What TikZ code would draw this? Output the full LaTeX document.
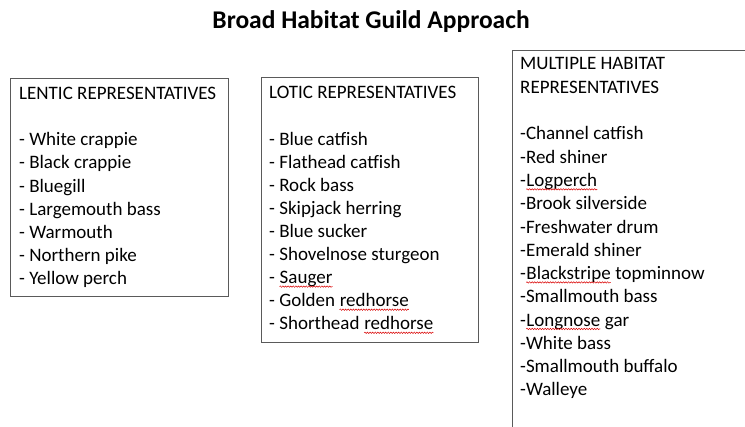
\documentclass[tikz,border=0pt]{standalone}
\usepackage{fontspec}
\setmainfont{Carlito}
\usetikzlibrary{decorations.pathmorphing}
\definecolor{boxgray}{HTML}{5A5A5A}
\tikzset{
  boxline/.style={draw=boxgray, line width=0.9pt},
  item/.style={anchor=base west, inner sep=0pt, font=\fontsize{19}{22}\selectfont, text=black},
  titlestyle/.style={anchor=base, inner sep=0pt, font=\fontsize{25.5}{30}\selectfont\bfseries},
  squig/.style={draw=red!85!black, line width=0.5pt, decorate, decoration={snake, amplitude=0.7pt, segment length=2.6pt}}
}
% name, x, y, prefix, word, suffix
\newcommand\sqline[6]{%
  \node[item] (#1a) at (#2,#3) {#4\null};
  \node[item] (#1) at (#1a.base east) {#5};
  \node[item] (#1b) at (#1.base east) {#6};
  \draw[squig] ([yshift=-2.8pt]#1.base west) -- ([yshift=-2.8pt]#1.base east);
}
\begin{document}
\begin{tikzpicture}[x=1pt,y=-1pt]
\useasboundingbox (0,0) rectangle (745,427);
\node[titlestyle] (title) at (371,28.5) {Broad Habitat Guild Approach};
% boxes
\draw[boxline] (10,78) rectangle (228,296);
\draw[boxline] (261,77.5) rectangle (478.5,342.5);
\coordinate (mtl) at (512,50);
\coordinate (mtr) at (746,50);
\coordinate (mbl) at (512,428);
\draw[boxline] (mtr) -- (mtl) -- (mbl);
% box 1
\node[item] (l0) at (19,99.5) {LENTIC REPRESENTATIVES};
\foreach \t [count=\i from 2] in {White crappie, Black crappie, Bluegill, Largemouth bass, Warmouth, Northern pike, Yellow perch}
  \node[item] (l\i) at (19,99.5+23.15*\i) {- \t};
% box 2
\node[item] (t0) at (269,99) {LOTIC REPRESENTATIVES};
\foreach \t [count=\i from 2] in {Blue catfish, Flathead catfish, Rock bass, Skipjack herring, Blue sucker, Shovelnose sturgeon}
  \node[item] (t\i) at (269,99+23.1*\i) {- \t};
\sqline{t8}{269}{99+23.1*8}{-\ }{Sauger}{}
\sqline{t9}{269}{99+23.1*9}{- Golden\ }{redhorse}{}
\sqline{t10}{269}{99+23.1*10}{- Shorthead\ }{redhorse}{}
% box 3
\node[item] (m0) at (520,70) {MULTIPLE HABITAT};
\node[item] (m1) at (520,93.3) {REPRESENTATIVES};
\foreach \t/\i in {Channel catfish/0, Red shiner/1, Brook silverside/3, Freshwater drum/4, Emerald shiner/5, Smallmouth bass/7, White bass/9, Smallmouth buffalo/10, Walleye/11}
  \node[item] (m\i x) at (520,140+23.27*\i) {-\t};
\sqline{m2x}{520}{140+23.27*2}{-}{Logperch}{}
\sqline{m6x}{520}{140+23.27*6}{-}{Blackstripe}{\ topminnow}
\sqline{m8x}{520}{140+23.27*8}{-}{Longnose}{\ gar}
\end{tikzpicture}
\end{document}
